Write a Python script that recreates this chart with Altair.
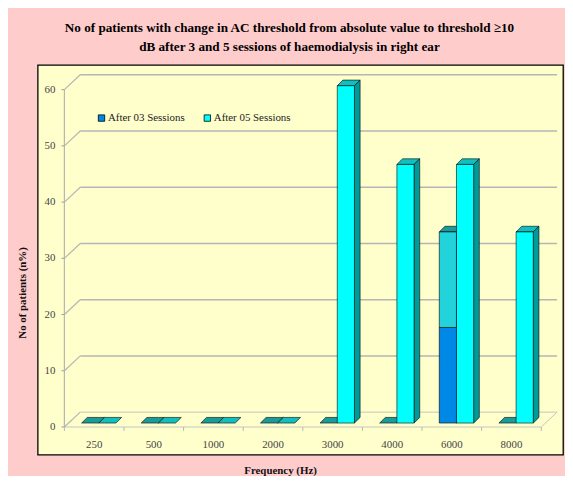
import altair as alt
import pandas as pd

# ---------------- data ----------------
freqs = ["250", "500", "1000", "2000", "3000", "4000", "6000", "8000"]
after03 = [0, 0, 0, 0, 0, 0, 34, 0]
after03_blue_part = [0, 0, 0, 0, 0, 0, 17, 0]   # dark blue lower part of the front face
after05 = [0, 0, 0, 0, 60, 46, 46, 34]
y_ticks = [0, 10, 20, 30, 40, 50, 60]
series_names = ["After 03 Sessions", "After 05 Sessions"]

# ---------------- 3-D geometry (data units) ----------------
BAR_LEFT = [-0.211, 0.078]
BAR_W = 0.288
BAR_Y0 = 0.70
DX, DY = 0.095, 1.0          # bar depth
FDX, FDY = 0.266, 2.64       # floor / wall depth
N = len(freqs)

FONT = "Liberation Serif"
TOP_COL = ["#179B9B", "#10BFBF"]
SIDE_COL = "#009A9A"

front, upper, sides, tops = [], [], [], []
for s, vals in enumerate([after03, after05]):
    for i, v in enumerate(vals):
        xl = i + BAR_LEFT[s]
        xr = xl + BAR_W
        b = BAR_Y0
        t = v + BAR_Y0
        fid = f"{s}-{i}"
        if v > 0:
            lo = after03_blue_part[i] if s == 0 else v
            front.append(dict(x=xl, x2=xr, y=b, y2=lo + BAR_Y0, series=series_names[s]))
            if s == 0 and v > lo:
                upper.append(dict(x=xl, x2=xr, y=lo + BAR_Y0, y2=t))
            # side face polygon (closed)
            for k, (px, py) in enumerate([(xr, b), (xr + DX, b + DY), (xr + DX, t + DY), (xr, t), (xr, b)]):
                sides.append(dict(face=fid, k=k, x=px, y=py))
        c = TOP_COL[s]
        # top face as an area: top/bottom boundaries
        tops += [
            dict(face=fid, x=xl, y=t, y2=t, col=c),
            dict(face=fid, x=xl + DX, y=t + DY, y2=t, col=c),
            dict(face=fid, x=xr, y=t + DY, y2=t, col=c),
            dict(face=fid, x=xr + DX, y=t + DY, y2=t + DY, col=c),
        ]

grid = [dict(x=-0.5 + FDX, x2=N - 0.5 + FDX, y=v + FDY, y2=v + FDY) for v in y_ticks if v > 0]
floor = [
    dict(x=-0.5 + FDX, x2=N - 0.5 + FDX, y=FDY, y2=FDY),
    dict(x=-0.5, x2=N - 0.5, y=0, y2=0),
    dict(x=N - 0.5, x2=N - 0.5 + FDX, y=0, y2=FDY),
]
connectors = [dict(x=-0.5, x2=-0.5 + FDX, y=v, y2=v + FDY) for v in y_ticks]
yaxis_line = [dict(x=-0.5, x2=-0.5, y=0, y2=max(y_ticks))]
yticks = [dict(x=-0.5, x2=-0.55, y=v, y2=v) for v in y_ticks]
xticks = [dict(x=k - 0.5, x2=k - 0.5, y=0, y2=-0.7) for k in range(N + 1)]
ylabels = [dict(x=-0.5, y=v, label=str(v)) for v in y_ticks]
xlabels = [dict(x=i, y=0, label=f) for i, f in enumerate(freqs)]

xs = alt.Scale(domain=[-0.948, 7.865], nice=False, zero=False)
ys = alt.Scale(domain=[-4.93, 64.40], nice=False, zero=False)
xaxis = alt.Axis(title="Frequency (Hz)", labels=False, ticks=False, domain=False, grid=False,
                 titleFont=FONT, titleFontSize=11, titleFontWeight="bold", titleColor="#111111",
                 titleX=245, titleY=16, titleAlign="center", titleBaseline="middle")
yaxis = alt.Axis(title="No of patients (n%)", labels=False, ticks=False, domain=False, grid=False,
                 titleFont=FONT, titleFontSize=11, titleFontWeight="bold", titleColor="#111111",
                 titleX=-15, titleY=230, titleAlign="center", titleBaseline="middle", titleAngle=270)


def X(f="x"):
    return alt.X(f"{f}:Q", scale=xs, axis=xaxis)


def Y(f="y"):
    return alt.Y(f"{f}:Q", scale=ys, axis=yaxis, stack=None)


def rules(rows, color, width):
    return alt.Chart(pd.DataFrame(rows)).mark_rule(color=color, strokeWidth=width).encode(
        x=X(), x2="x2:Q", y=Y(), y2="y2:Q")


grid_l = rules(grid, "#B5B5B5", 1.5)
floor_l = rules(floor, "#C4C4C4", 1)
conn_l = rules(connectors, "#B5B5B5", 1.2)
yline_l = rules(yaxis_line, "#B5B5B5", 1.2)
ytick_l = rules(yticks, "#A0A0A0", 1)
xtick_l = rules(xticks, "#B5B5B5", 1)

ylab_l = alt.Chart(pd.DataFrame(ylabels)).mark_text(
    font=FONT, fontSize=11, color="#444444", align="right", baseline="middle", dx=-9
).encode(x=X(), y=Y(), text="label:N")
xlab_l = alt.Chart(pd.DataFrame(xlabels)).mark_text(
    font=FONT, fontSize=11, color="#444444", align="center", baseline="middle", dy=18
).encode(x=X(), y=Y(), text="label:N")

tops_l = alt.Chart(pd.DataFrame(tops)).mark_area(
    orient="vertical", stroke="black", strokeWidth=0.6, interpolate="linear"
).encode(x=X(), y=Y(), y2="y2:Q", detail="face:N",
         fill=alt.Fill("col:N", scale=None))
sides_l = alt.Chart(pd.DataFrame(sides)).mark_line(
    stroke="black", strokeWidth=0.6, fill=SIDE_COL, interpolate="linear"
).encode(x=X(), y=Y(), detail="face:N", order="k:Q")
front_l = alt.Chart(pd.DataFrame(front)).mark_rect(stroke="black", strokeWidth=0.6).encode(
    x=X(), x2="x2:Q", y=Y(), y2="y2:Q",
    fill=alt.Fill("series:N", scale=alt.Scale(domain=series_names, range=["#0088E6", "#00FFFF"]),
                  legend=alt.Legend(title=None, orient="none", legendX=59, legendY=48,
                                    direction="horizontal", symbolType="square", symbolSize=42,
                                    symbolStrokeColor="black", symbolStrokeWidth=0.8,
                                    labelFont=FONT, labelFontSize=11, labelColor="#222222",
                                    labelOffset=1, columnPadding=17)))
upper_l = alt.Chart(pd.DataFrame(upper)).mark_rect(stroke="black", strokeWidth=0.6, fill="#22D3DC").encode(
    x=X(), x2="x2:Q", y=Y(), y2="y2:Q")

chart = alt.layer(
    grid_l, floor_l, conn_l, yline_l, ytick_l, xtick_l, ylab_l, xlab_l,
    tops_l, sides_l, front_l, upper_l
).properties(
    width=531, height=394,
    autosize=alt.AutoSizeParams(type="none"),
    padding={"left": 30, "top": 55, "right": 2, "bottom": 19},
    title=alt.Title(
        ["No of patients with change in AC threshold from absolute value to threshold \u226510",
         "dB after 3 and 5 sessions of haemodialysis in right ear"],
        font=FONT, fontSize=13.3, fontWeight="bold", color="#000000",
        anchor="middle", dx=-11, offset=12, lineHeight=19),
).configure(background="#FFCCCC").configure_view(fill="#FFFFCC", stroke="#000000", strokeWidth=1.3)

chart.save("out.html", embed_options={"renderer": "svg", "actions": False})
